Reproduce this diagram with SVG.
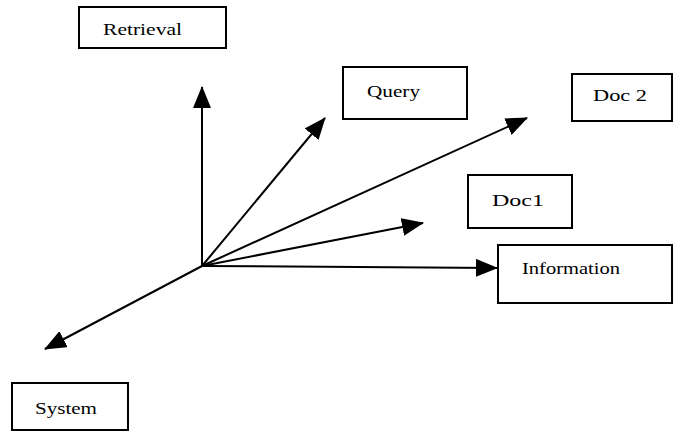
<svg xmlns="http://www.w3.org/2000/svg" width="675" height="432" viewBox="0 0 675 432">
<style>
.box{fill:#fff;stroke:#000;stroke-width:2}
.lbl{font-family:"Liberation Serif","DejaVu Serif","Times New Roman",serif;font-size:16px;fill:#000}
.ln{stroke:#000;stroke-width:2;fill:none}
</style>
<defs>
<marker id="ah" markerUnits="userSpaceOnUse" markerWidth="22" markerHeight="18" viewBox="0 0 22 18" refX="21" refY="9" orient="auto">
<path d="M0,0 L22,9 L0,18 Z" fill="#000"/>
</marker>
</defs>
<rect width="675" height="432" fill="#fff"/>
<g id="retrieval"><rect class="box" x="79" y="7" width="147" height="41"/><text class="lbl" x="103" y="35" textLength="79" lengthAdjust="spacingAndGlyphs">Retrieval</text></g>
<g id="query"><rect class="box" x="343" y="67" width="124" height="52"/><text class="lbl" x="367" y="97" textLength="53" lengthAdjust="spacingAndGlyphs">Query</text></g>
<g id="doc2"><rect class="box" x="572" y="74" width="100" height="47"/><text class="lbl" x="593" y="101" textLength="54" lengthAdjust="spacingAndGlyphs">Doc 2</text></g>
<g id="doc1"><rect class="box" x="468" y="175" width="104" height="53"/><text class="lbl" x="492" y="206" textLength="52" lengthAdjust="spacingAndGlyphs">Doc1</text></g>
<g id="information"><rect class="box" x="498" y="245" width="174" height="58"/><text class="lbl" x="522" y="274" textLength="98" lengthAdjust="spacingAndGlyphs">Information</text></g>
<g id="system"><rect class="box" x="12" y="383" width="116" height="47"/><text class="lbl" x="35" y="414" textLength="62" lengthAdjust="spacingAndGlyphs">System</text></g>
<g id="connectors">
<line class="ln" x1="202" y1="266" x2="202" y2="87" marker-end="url(#ah)"/>
<line class="ln" x1="202" y1="266" x2="325" y2="118" marker-end="url(#ah)"/>
<line class="ln" x1="202" y1="266" x2="527" y2="118" marker-end="url(#ah)"/>
<line class="ln" x1="202" y1="266" x2="423" y2="223" marker-end="url(#ah)"/>
<line class="ln" x1="202" y1="266" x2="497" y2="268" marker-end="url(#ah)"/>
<line class="ln" x1="202" y1="266" x2="45" y2="349" marker-end="url(#ah)"/>
</g>
</svg>
